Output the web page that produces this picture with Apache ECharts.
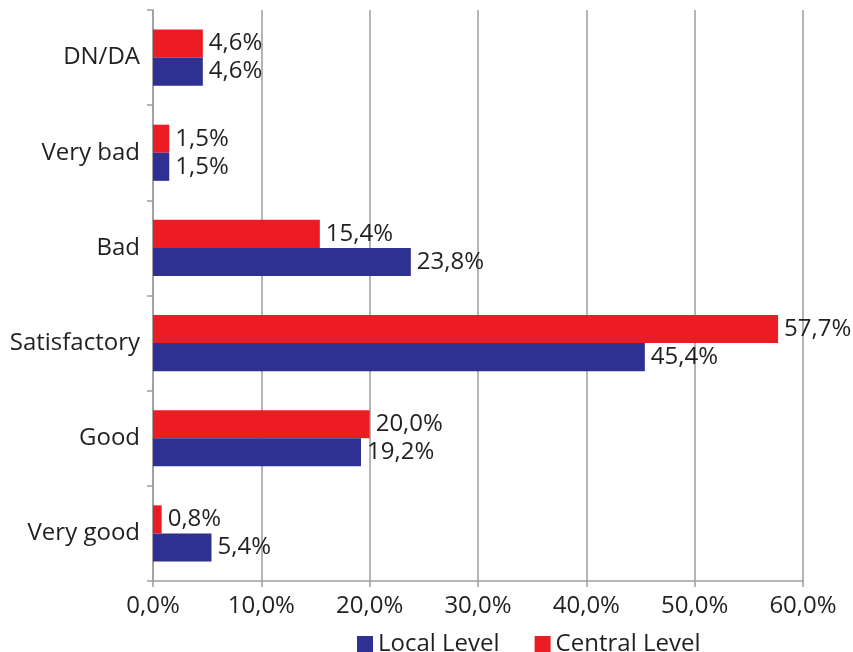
<!DOCTYPE html>
<html>
<head>
<meta charset="utf-8">
<script src="https://cdn.jsdelivr.net/npm/echarts@6/dist/echarts.min.js"></script>
<style>
  html, body { margin: 0; padding: 0; background: #fff; }
  #chart { width: 853px; height: 652px; }
</style>
</head>
<body>
<div id="chart"></div>
<script>
// Ratings, listed from the bottom of the axis upward
const categories = ['Very good', 'Good', 'Satisfactory', 'Bad', 'Very bad', 'DN/DA'];
const localLevel = [5.4, 19.2, 45.4, 23.8, 1.5, 4.6];
const centralLevel = [0.8, 20.0, 57.7, 15.4, 1.5, 4.6];
const xTicks = { min: 0, max: 60, interval: 10 };

const FONT = 'Open Sans';
const FS = 24;
const TEXT = '#231f20';
const AXIS = '#9d9d9d';

const fmt = v => v.toFixed(1).replace('.', ',') + '%';

const valueLabel = {
  show: true, position: 'right', distance: 6,
  fontFamily: FONT, fontSize: FS, color: TEXT,
  formatter: p => fmt(p.value)
};

const chart = echarts.init(document.getElementById('chart'));
chart.setOption({
  animation: false,
  textStyle: { fontFamily: FONT },
  grid: { left: 153, right: 50, top: 10, bottom: 71, containLabel: false },
  legend: {
    left: 352,
    top: 627,
    itemWidth: 16,
    itemHeight: 16,
    itemGap: 35,
    icon: 'rect',
    textStyle: { fontFamily: FONT, fontSize: FS, color: TEXT },
    data: ['Local Level', 'Central Level']
  },
  xAxis: {
    type: 'value',
    min: xTicks.min,
    max: xTicks.max,
    interval: xTicks.interval,
    axisLine: { show: true, lineStyle: { color: AXIS, width: 1.5 } },
    axisTick: { show: true, length: 6, lineStyle: { color: AXIS, width: 1.5 } },
    splitLine: { show: true, lineStyle: { color: AXIS, width: 1.5 } },
    axisLabel: {
      fontFamily: FONT, fontSize: FS, color: TEXT, margin: 13,
      formatter: v => fmt(v)
    }
  },
  yAxis: {
    type: 'category',
    data: categories,
    axisLine: { show: true, lineStyle: { color: AXIS, width: 1.5 } },
    axisTick: { show: true, length: 6, lineStyle: { color: AXIS, width: 1.5 } },
    axisLabel: { fontFamily: FONT, fontSize: FS, color: TEXT, margin: 13 }
  },
  // Central Level listed first so its bar sits above Local Level in each row
  series: [
    {
      name: 'Central Level',
      type: 'bar',
      data: centralLevel,
      barGap: '0%',
      barCategoryGap: '41%',
      itemStyle: { color: '#ed1c24' },
      label: valueLabel
    },
    {
      name: 'Local Level',
      type: 'bar',
      data: localLevel,
      barGap: '0%',
      barCategoryGap: '41%',
      itemStyle: { color: '#2e3192' },
      label: valueLabel
    }
  ]
});
</script>
</body>
</html>
